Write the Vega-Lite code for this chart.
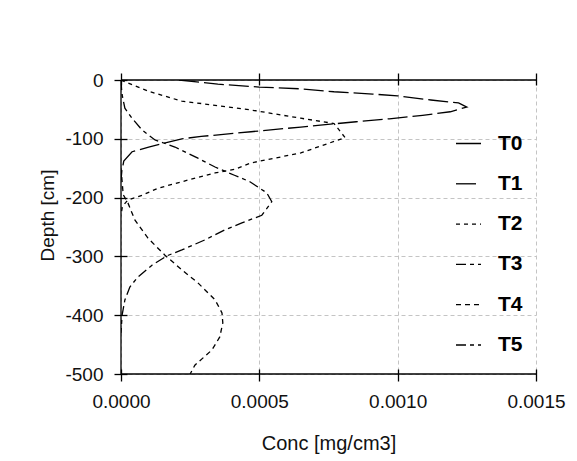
{
  "$schema": "https://vega.github.io/schema/vega-lite/v6.json",
  "width": 415,
  "height": 294,
  "autosize": "none",
  "padding": {"left": 121, "top": 80, "right": 41, "bottom": 87},
  "background": "white",
  "config": {
    "view": {"stroke": null},
    "font": "Liberation Sans",
    "axis": {
      "labelFont": "Liberation Sans",
      "titleFont": "Liberation Sans",
      "labelColor": "#111",
      "titleColor": "#111",
      "labelFontSize": 19,
      "titleFontWeight": "normal",
      "labelFlush": false,
      "tickColor": "black",
      "tickWidth": 1.3,
      "gridColor": "#c4c4c4",
      "gridDash": [4, 3],
      "gridWidth": 1
    }
  },
  "datasets": {
    "profiles": [
      {"series": "T1", "conc": 0.00021, "depth": 0},
      {"series": "T1", "conc": 0.00035, "depth": -7},
      {"series": "T1", "conc": 0.0005, "depth": -12},
      {"series": "T1", "conc": 0.00065, "depth": -15},
      {"series": "T1", "conc": 0.00077, "depth": -20},
      {"series": "T1", "conc": 0.00091, "depth": -24},
      {"series": "T1", "conc": 0.001, "depth": -27},
      {"series": "T1", "conc": 0.00112, "depth": -34},
      {"series": "T1", "conc": 0.00122, "depth": -39},
      {"series": "T1", "conc": 0.00125, "depth": -46},
      {"series": "T1", "conc": 0.00119, "depth": -54},
      {"series": "T1", "conc": 0.00109, "depth": -60},
      {"series": "T1", "conc": 0.00097, "depth": -66},
      {"series": "T1", "conc": 0.00085, "depth": -71},
      {"series": "T1", "conc": 0.00065, "depth": -80},
      {"series": "T1", "conc": 0.00047, "depth": -88},
      {"series": "T1", "conc": 0.00029, "depth": -96},
      {"series": "T1", "conc": 0.00022, "depth": -100},
      {"series": "T1", "conc": 0.00016, "depth": -107},
      {"series": "T1", "conc": 0.0001, "depth": -114},
      {"series": "T1", "conc": 0.00004, "depth": -122},
      {"series": "T1", "conc": 0.00001, "depth": -138},
      {"series": "T1", "conc": 0.000003, "depth": -155},
      {"series": "T1", "conc": 0, "depth": -170},

      {"series": "T2", "conc": 0, "depth": 0},
      {"series": "T2", "conc": 0.00004, "depth": -8},
      {"series": "T2", "conc": 0.000105, "depth": -20},
      {"series": "T2", "conc": 0.00022, "depth": -36},
      {"series": "T2", "conc": 0.00029, "depth": -40},
      {"series": "T2", "conc": 0.00047, "depth": -51},
      {"series": "T2", "conc": 0.00065, "depth": -65},
      {"series": "T2", "conc": 0.00077, "depth": -74},
      {"series": "T2", "conc": 0.00081, "depth": -98},
      {"series": "T2", "conc": 0.00065, "depth": -124},
      {"series": "T2", "conc": 0.00047, "depth": -141},
      {"series": "T2", "conc": 0.00041, "depth": -152},
      {"series": "T2", "conc": 0.00034, "depth": -158},
      {"series": "T2", "conc": 0.00022, "depth": -173},
      {"series": "T2", "conc": 0.000134, "depth": -184},
      {"series": "T2", "conc": 0.000076, "depth": -196},
      {"series": "T2", "conc": 0.000025, "depth": -204},
      {"series": "T2", "conc": 0.000005, "depth": -215},
      {"series": "T2", "conc": 0, "depth": -230},

      {"series": "T3", "conc": 0, "depth": 0},
      {"series": "T3", "conc": 0.000002, "depth": -15},
      {"series": "T3", "conc": 0.000004, "depth": -25},
      {"series": "T3", "conc": 0.000014, "depth": -48},
      {"series": "T3", "conc": 0.00004, "depth": -65},
      {"series": "T3", "conc": 0.000076, "depth": -85},
      {"series": "T3", "conc": 0.000123, "depth": -102},
      {"series": "T3", "conc": 0.000195, "depth": -114},
      {"series": "T3", "conc": 0.000278, "depth": -133},
      {"series": "T3", "conc": 0.00034, "depth": -148},
      {"series": "T3", "conc": 0.00041, "depth": -162},
      {"series": "T3", "conc": 0.000466, "depth": -173},
      {"series": "T3", "conc": 0.000527, "depth": -192},
      {"series": "T3", "conc": 0.000545, "depth": -207},
      {"series": "T3", "conc": 0.000509, "depth": -230},
      {"series": "T3", "conc": 0.000437, "depth": -243},
      {"series": "T3", "conc": 0.000375, "depth": -255},
      {"series": "T3", "conc": 0.000303, "depth": -272},
      {"series": "T3", "conc": 0.00022, "depth": -289},
      {"series": "T3", "conc": 0.000166, "depth": -299},
      {"series": "T3", "conc": 0.000112, "depth": -315},
      {"series": "T3", "conc": 0.000061, "depth": -335},
      {"series": "T3", "conc": 0.000032, "depth": -352},
      {"series": "T3", "conc": 0.000014, "depth": -374},
      {"series": "T3", "conc": 0.000004, "depth": -400},
      {"series": "T3", "conc": 0, "depth": -430},

      {"series": "T4", "conc": 0, "depth": -150},
      {"series": "T4", "conc": 0.000008, "depth": -195},
      {"series": "T4", "conc": 0.000025, "depth": -209},
      {"series": "T4", "conc": 0.00005, "depth": -238},
      {"series": "T4", "conc": 0.0000975, "depth": -269},
      {"series": "T4", "conc": 0.000159, "depth": -298},
      {"series": "T4", "conc": 0.00022, "depth": -323},
      {"series": "T4", "conc": 0.000278, "depth": -345},
      {"series": "T4", "conc": 0.00034, "depth": -374},
      {"series": "T4", "conc": 0.000365, "depth": -396},
      {"series": "T4", "conc": 0.000368, "depth": -413},
      {"series": "T4", "conc": 0.000357, "depth": -437},
      {"series": "T4", "conc": 0.000329, "depth": -459},
      {"series": "T4", "conc": 0.000267, "depth": -485},
      {"series": "T4", "conc": 0.00025, "depth": -500}
    ]
  },
  "resolve": {"axis": {"x": "independent"}},
  "layer": [
    {
      "data": {"name": "profiles"},
      "mark": {"type": "line", "clip": true, "strokeWidth": 1.3, "color": "black"},
      "encoding": {
        "x": {
          "field": "conc", "type": "quantitative",
          "scale": {"domain": [0, 0.0015], "nice": false, "zero": false},
          "axis": {
            "orient": "bottom", "title": "Conc [mg/cm3]", "format": ".4f",
            "values": [0, 0.0005, 0.001, 0.0015],
            "domain": false, "offset": -5, "tickSize": 12,
            "labelPadding": 11, "titlePadding": 22, "titleFontSize": 20,
            "grid": true
          }
        },
        "y": {
          "field": "depth", "type": "quantitative",
          "scale": {"domain": [-500, 0], "nice": false, "zero": false},
          "axis": {
            "orient": "left", "title": "Depth [cm]",
            "values": [0, -100, -200, -300, -400, -500],
            "labelExpr": "replace(datum.label, '\u2212', '-')",
            "domain": false, "offset": -6, "tickSize": 13,
            "labelPadding": 11, "titlePadding": 7, "titleFontSize": 19,
            "titleY": 135, "grid": true
          }
        },
        "order": {"field": "depth", "sort": "descending"},
        "detail": {"field": "series"},
        "strokeDash": {
          "field": "series", "type": "nominal",
          "scale": {
            "domain": ["T0", "T1", "T2", "T3", "T4", "T5"],
            "range": [[1, 0], [20, 5], [4, 4], [10, 4, 4, 4], [5, 4], [10, 4, 4, 4]]
          },
          "legend": {
            "title": null,
            "orient": "none",
            "legendX": 334,
            "legendY": 50,
            "padding": 0,
            "symbolType": "stroke",
            "symbolSize": 625,
            "symbolStrokeColor": "black",
            "symbolStrokeWidth": 1.3,
            "labelFont": "Liberation Sans",
            "labelFontSize": 21,
            "labelFontWeight": "bold",
            "labelColor": "black",
            "labelOffset": 16,
            "rowPadding": 16.3
          }
        }
      }
    },
    {
      "data": {"values": [{}]},
      "mark": {"type": "rule", "color": "black", "strokeWidth": 1.3},
      "encoding": {
        "x": {"datum": 0, "type": "quantitative", "axis": null}
      }
    },
    {
      "data": {"values": [{}]},
      "mark": {"type": "rule", "color": "black", "strokeWidth": 1.3},
      "encoding": {
        "y": {"datum": -500, "type": "quantitative"}
      }
    },
    {
      "data": {"values": [{}]},
      "mark": {"type": "rule", "color": "black", "strokeWidth": 1.3},
      "encoding": {
        "y": {"datum": 0, "type": "quantitative"},
        "x": {
          "datum": 0, "type": "quantitative",
          "axis": {
            "orient": "top", "title": null, "labels": false, "grid": false,
            "values": [0, 0.0005, 0.001, 0.0015],
            "domain": false, "offset": -5, "tickSize": 12
          }
        },
        "x2": {"datum": 0.0015}
      }
    }
  ]
}
